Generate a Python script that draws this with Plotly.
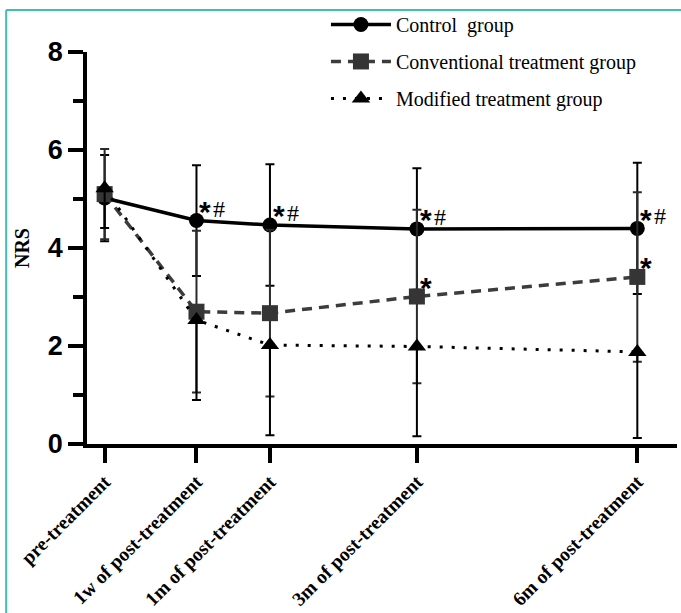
import plotly.graph_objects as go

# Time points (x positions on a month-like scale, 1 week at 0)
time_labels = ["pre-treatment", "1w of post-treatment", "1m of post-treatment",
               "3m of post-treatment", "6m of post-treatment"]
time_pos = [-1.25, 0, 1, 3, 6]

# NRS means and standard deviations
control_mean = [5.02, 4.56, 4.47, 4.39, 4.40]
control_sd = [0.88, 1.13, 1.24, 1.24, 1.34]

conventional_mean = [5.10, 2.70, 2.67, 3.01, 3.41]
conventional_sd = [0.92, 1.65, 1.70, 1.77, 1.73]

modified_mean = [5.22, 2.53, 2.02, 1.99, 1.88]
modified_sd = [0.81, 1.63, 1.84, 1.83, 1.76]

# Significance marks
control_sig = ["", "*#", "*#", "*#", "*#"]
conventional_sig = ["", "", "", "*", "*"]

SERIF = "Liberation Serif"
SANS = "Liberation Sans"

fig = go.Figure()

fig.add_trace(go.Scatter(
    x=time_pos, y=control_mean, name="Control\u00a0 group", legendgroup="a",
    mode="lines+markers",
    line=dict(color="black", width=3.5),
    marker=dict(symbol="circle", size=15, color="black"),
    error_y=dict(type="data", array=control_sd, color="black", thickness=2, width=4.5),
))
fig.add_trace(go.Scatter(
    x=time_pos, y=conventional_mean, name="Conventional treatment group", legendgroup="b",
    mode="lines+markers",
    line=dict(color="#3c3c3c", width=3.5, dash="10px,7px"),
    marker=dict(symbol="square", size=16, color="#353535"),
    error_y=dict(type="data", array=conventional_sd, color="#2a2a2a", thickness=2, width=4.5),
))
fig.add_trace(go.Scatter(
    x=time_pos, y=modified_mean, name="Modified treatment group", legendgroup="c",
    mode="lines+markers",
    line=dict(color="black", width=3, dash="3px,9px"),
    marker=dict(symbol="triangle-up", size=16, color="black"),
    error_y=dict(type="data", symmetric=False, array=[0] * len(modified_sd),
                 arrayminus=modified_sd, color="black", thickness=2, width=4.5),
))

# Significance annotations: asterisk (sans bold) followed by hash (serif)
def add_marks(means, marks):
    for xp, yv, m in zip(time_pos, means, marks):
        if not m:
            continue
        fig.add_annotation(x=xp, y=yv, xref="x", yref="y", text="*", showarrow=False,
                           font=dict(family=SANS, size=30, color="black", weight="bold"),
                           xanchor="center", yanchor="middle", xshift=9, yshift=9)
        if "#" in m:
            fig.add_annotation(x=xp, y=yv, xref="x", yref="y", text="#", showarrow=False,
                               font=dict(family=SERIF, size=24, color="black"),
                               xanchor="center", yanchor="middle", xshift=23, yshift=12)

add_marks(control_mean, control_sig)
add_marks(conventional_mean, conventional_sig)

# Teal frame along the top and left edges
frame = "#3fbfae"
fig.add_shape(type="line", xref="paper", yref="paper", x0=-0.137, x1=1.01, y0=1.107, y1=1.107,
              line=dict(color=frame, width=2))
fig.add_shape(type="line", xref="paper", yref="paper", x0=-0.137, x1=-0.137, y0=1.107, y1=-0.45,
              line=dict(color=frame, width=2))

fig.update_layout(
    width=681, height=613,
    margin=dict(l=87, r=4, t=52, b=169),
    paper_bgcolor="white", plot_bgcolor="white",
    showlegend=True,
    legend=dict(x=0.405, y=1.12, xanchor="left", yanchor="top",
                font=dict(family=SERIF, size=20, color="black"),
                bgcolor="rgba(0,0,0,0)", tracegroupgap=8, itemwidth=60),
    xaxis=dict(
        range=[-1.49, 6.54], tickvals=time_pos, ticktext=time_labels, tickangle=-45,
        showline=True, linecolor="black", linewidth=3.5,
        ticks="outside", ticklen=15, tickwidth=3.5, tickcolor="black",
        showgrid=False, zeroline=False, automargin=False,
        tickfont=dict(family=SERIF, size=19.5, color="black", weight="bold"),
        ticklabelstandoff=0,
    ),
    yaxis=dict(
        range=[0, 8], tickvals=[0, 2, 4, 6, 8],
        showline=True, linecolor="black", linewidth=3.5,
        ticks="outside", ticklen=15, tickwidth=3.5, tickcolor="black",
        minor=dict(tickvals=[1, 3, 5, 7], ticks="outside", ticklen=10, tickwidth=3.5,
                   tickcolor="black", showgrid=False),
        showgrid=False, zeroline=False, automargin=False,
        tickfont=dict(family=SANS, size=27, color="black", weight="bold"),
        title=dict(text="NRS", font=dict(family=SERIF, size=20, color="black", weight="bold"),
                   standoff=14),
    ),
)

fig.write_html("out.html")
